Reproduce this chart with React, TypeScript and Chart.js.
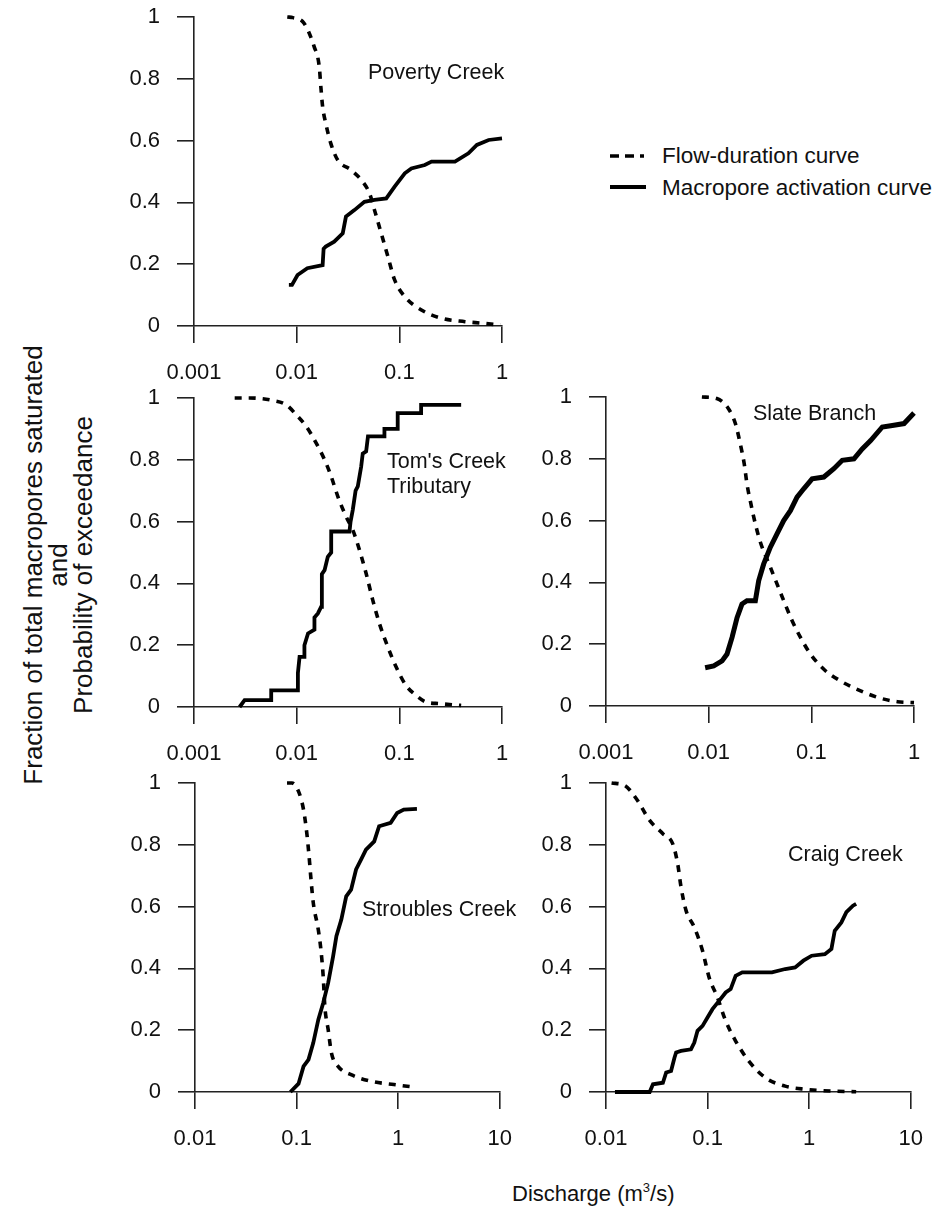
import React, { useEffect, useRef } from "react";
import { Chart, registerables } from "chart.js";

Chart.register(...registerables);

const FONT_FAMILY = '"Liberation Sans", Arial, Helvetica, sans-serif';
const INK = "#111";

// Axis tick values
const lowDecades = [0.001, 0.01, 0.1, 1];
const highDecades = [0.01, 0.1, 1, 10];
const fractionTicks = [0, 0.2, 0.4, 0.6, 0.8, 1];

// Poverty Creek
const povertyFlowQ = [0.0081, 0.0092, 0.0118, 0.0148, 0.0166, 0.0172, 0.0179, 0.0192, 0.0215, 0.0251, 0.0338, 0.044, 0.0513, 0.0573, 0.0666, 0.0775, 0.09, 0.113, 0.164, 0.258, 0.436, 0.637, 0.964];
const povertyFlowP = [1.0, 0.998, 0.98, 0.904, 0.839, 0.774, 0.71, 0.656, 0.591, 0.537, 0.505, 0.467, 0.429, 0.375, 0.3, 0.224, 0.149, 0.095, 0.052, 0.025, 0.014, 0.009, 0.003];
const povertyMacroQ = [0.0084, 0.009, 0.0102, 0.0127, 0.0179, 0.0183, 0.0192, 0.0232, 0.0281, 0.0302, 0.0365, 0.0457, 0.0573, 0.0746, 0.09, 0.113, 0.131, 0.177, 0.206, 0.348, 0.471, 0.569, 0.741, 1.0];
const povertyMacroF = [0.133, 0.133, 0.165, 0.187, 0.197, 0.25, 0.257, 0.273, 0.3, 0.354, 0.375, 0.402, 0.408, 0.413, 0.451, 0.494, 0.51, 0.521, 0.532, 0.532, 0.559, 0.586, 0.602, 0.607];

// Tom's Creek Tributary
const tomsFlowQ = [0.00249, 0.00348, 0.00586, 0.0079, 0.00989, 0.0124, 0.0155, 0.0187, 0.0217, 0.0252, 0.0303, 0.0352, 0.0409, 0.0475, 0.0551, 0.064, 0.0771, 0.0929, 0.116, 0.145, 0.182, 0.245, 0.4];
const tomsFlowP = [1.0, 1.0, 0.992, 0.978, 0.946, 0.908, 0.854, 0.8, 0.746, 0.681, 0.616, 0.573, 0.508, 0.432, 0.346, 0.27, 0.195, 0.13, 0.07, 0.038, 0.016, 0.011, 0.005];
const tomsMacroQ = [0.00278, 0.00311, 0.00565, 0.00565, 0.01028, 0.01028, 0.01067, 0.0119, 0.0119, 0.0129, 0.0149, 0.0149, 0.0161, 0.0173, 0.0176, 0.0187, 0.0201, 0.0217, 0.0217, 0.0327, 0.0335, 0.0352, 0.0375, 0.0394, 0.0425, 0.044, 0.0475, 0.0495, 0.0551, 0.0716, 0.0716, 0.0964, 0.0964, 0.163, 0.163, 0.4];
const tomsMacroF = [0, 0.022, 0.022, 0.054, 0.054, 0.11, 0.162, 0.162, 0.2, 0.238, 0.25, 0.29, 0.303, 0.324, 0.43, 0.443, 0.486, 0.5, 0.568, 0.568, 0.6, 0.638, 0.7, 0.714, 0.778, 0.82, 0.827, 0.876, 0.876, 0.876, 0.9, 0.9, 0.951, 0.951, 0.978, 0.978];

// Slate Branch
const slateFlowQ = [0.00859, 0.012, 0.0156, 0.0182, 0.0203, 0.0222, 0.0236, 0.0258, 0.0285, 0.0319, 0.0399, 0.0463, 0.0538, 0.065, 0.0784, 0.0981, 0.1324, 0.1925, 0.302, 0.473, 0.689, 1.0];
const slateFlowP = [1.0, 0.995, 0.962, 0.914, 0.849, 0.784, 0.719, 0.654, 0.589, 0.53, 0.449, 0.395, 0.341, 0.276, 0.222, 0.168, 0.119, 0.081, 0.049, 0.025, 0.014, 0.011];
const slateMacroQ = [0.00924, 0.0112, 0.0135, 0.0151, 0.0169, 0.0189, 0.0211, 0.0236, 0.0285, 0.0307, 0.0343, 0.0399, 0.0463, 0.0538, 0.0625, 0.0726, 0.0843, 0.1018, 0.1324, 0.1657, 0.2, 0.26, 0.313, 0.378, 0.491, 0.615, 0.8, 1.0];
const slateMacroF = [0.124, 0.13, 0.146, 0.168, 0.222, 0.286, 0.33, 0.341, 0.341, 0.405, 0.459, 0.514, 0.557, 0.6, 0.632, 0.676, 0.703, 0.735, 0.741, 0.768, 0.795, 0.8, 0.832, 0.859, 0.903, 0.908, 0.914, 0.948];

// Stroubles Creek
const stroublesFlowQ = [0.0805, 0.0901, 0.1045, 0.117, 0.126, 0.1327, 0.1387, 0.146, 0.1636, 0.1735, 0.1828, 0.1897, 0.2046, 0.2205, 0.256, 0.344, 0.538, 0.907, 1.42];
const stroublesFlowP = [1.0, 1.0, 0.973, 0.914, 0.838, 0.763, 0.687, 0.612, 0.525, 0.461, 0.374, 0.277, 0.202, 0.126, 0.083, 0.056, 0.035, 0.024, 0.016];
const stroublesMacroQ = [0.0869, 0.1045, 0.117, 0.131, 0.146, 0.1636, 0.1828, 0.2046, 0.2288, 0.2465, 0.2757, 0.308, 0.344, 0.385, 0.431, 0.482, 0.581, 0.649, 0.843, 0.977, 1.135, 1.53];
const stroublesMacroF = [0, 0.027, 0.083, 0.105, 0.159, 0.234, 0.288, 0.353, 0.439, 0.504, 0.558, 0.633, 0.655, 0.72, 0.752, 0.784, 0.811, 0.86, 0.871, 0.903, 0.914, 0.916];

// Craig Creek
const craigFlowQ = [0.01135, 0.0153, 0.0199, 0.0269, 0.0363, 0.0454, 0.0508, 0.0548, 0.0614, 0.074, 0.0892, 0.1035, 0.125, 0.1507, 0.1888, 0.2547, 0.3707, 0.581, 0.909, 1.656, 2.9];
const craigFlowP = [1.0, 0.992, 0.949, 0.879, 0.836, 0.803, 0.738, 0.663, 0.587, 0.533, 0.457, 0.371, 0.306, 0.23, 0.165, 0.1, 0.046, 0.019, 0.009, 0.003, 0.001];
const craigMacroQ = [0.01225, 0.0269, 0.029, 0.0363, 0.0391, 0.0437, 0.0472, 0.049, 0.0548, 0.0686, 0.074, 0.0796, 0.0892, 0.0998, 0.1117, 0.1297, 0.1507, 0.1686, 0.1888, 0.2193, 0.43, 0.581, 0.727, 0.877, 1.058, 1.427, 1.656, 1.785, 2.075, 2.323, 2.698, 2.9];
const craigMacroF = [0, 0, 0.025, 0.03, 0.063, 0.068, 0.111, 0.128, 0.133, 0.138, 0.16, 0.198, 0.214, 0.241, 0.268, 0.295, 0.322, 0.333, 0.376, 0.387, 0.387, 0.398, 0.403, 0.425, 0.441, 0.446, 0.463, 0.522, 0.549, 0.582, 0.603, 0.609];

// Frame geometry for each small plot
const AXIS_W = 80;
const AXIS_H = 75;
const PAD_TOP = 34; // must exceed the y scale's own label padding
const PAD_RIGHT = 26;
const PLOT_W = 308;
const PLOT_H = 309;
const TICK_LEN = 17;
const TICK_FONT = 22;

const pairs = (xs: number[], ys: number[]) => xs.map((x, i) => ({ x, y: ys[i] }));

type PanelProps = {
  plotLeft: number;
  plotTop: number;
  flowQ: number[];
  flowP: number[];
  macroQ: number[];
  macroF: number[];
  xTicks: number[];
  macroWidth?: number;
};

function Panel({ plotLeft, plotTop, flowQ, flowP, macroQ, macroF, xTicks, macroWidth = 3.8 }: PanelProps) {
  const ref = useRef<HTMLCanvasElement | null>(null);
  const width = AXIS_W + PLOT_W + PAD_RIGHT;
  const height = PAD_TOP + PLOT_H + AXIS_H;

  useEffect(() => {
    if (!ref.current) return;
    const axisGrid = {
      drawOnChartArea: false,
      drawTicks: true,
      tickLength: TICK_LEN,
      color: "#222",
      lineWidth: 1.6,
    };
    const axisBorder = { display: true, color: "#222", width: 1.6 };
    const tickFont = { family: FONT_FAMILY, size: TICK_FONT };

    const chart = new Chart(ref.current, {
      type: "scatter",
      data: {
        datasets: [
          {
            label: "Flow-duration curve",
            data: pairs(flowQ, flowP),
            showLine: true,
            borderColor: "#000",
            borderWidth: 3.6,
            borderDash: [7, 7],
            pointRadius: 0,
            cubicInterpolationMode: "monotone",
            clip: false,
          } as any,
          {
            label: "Macropore activation curve",
            data: pairs(macroQ, macroF),
            showLine: true,
            borderColor: "#000",
            borderWidth: macroWidth,
            pointRadius: 0,
            tension: 0,
            clip: false,
          } as any,
        ],
      },
      options: {
        animation: false,
        responsive: false,
        events: [],
        layout: {
          autoPadding: false,
          padding: { left: 0, top: PAD_TOP, right: PAD_RIGHT, bottom: 0 },
        } as any,
        plugins: {
          legend: { display: false },
          tooltip: { enabled: false },
        },
        scales: {
          x: {
            type: "logarithmic",
            min: xTicks[0],
            max: xTicks[xTicks.length - 1],
            afterBuildTicks: (scale: any) => {
              scale.ticks = xTicks.map((value) => ({ value }));
            },
            afterFit: (scale: any) => {
              scale.height = AXIS_H;
            },
            grid: axisGrid,
            border: axisBorder,
            ticks: {
              autoSkip: false,
              maxRotation: 0,
              padding: 17,
              color: INK,
              font: tickFont,
              callback: (v: any) => String(v),
            },
          },
          y: {
            type: "linear",
            min: 0,
            max: 1,
            afterBuildTicks: (scale: any) => {
              scale.ticks = fractionTicks.map((value) => ({ value }));
            },
            afterFit: (scale: any) => {
              scale.width = AXIS_W;
            },
            grid: axisGrid,
            border: axisBorder,
            ticks: {
              autoSkip: false,
              padding: 17,
              color: INK,
              font: tickFont,
              callback: (v: any) => String(v),
            },
          },
        },
      } as any,
    });
    return () => chart.destroy();
  }, []);

  return (
    <canvas
      ref={ref}
      width={width}
      height={height}
      style={{
        position: "absolute",
        left: plotLeft - AXIS_W,
        top: plotTop - PAD_TOP,
        width,
        height,
      }}
    />
  );
}

function Label({ left, centerY, lines, size = 21.5 }: { left: number; centerY: number; lines: string[]; size?: number }) {
  const lh = 25;
  return (
    <div
      style={{
        position: "absolute",
        left,
        top: centerY - (lines.length * lh) / 2,
        fontFamily: FONT_FAMILY,
        fontSize: size,
        lineHeight: `${lh}px`,
        color: INK,
        whiteSpace: "nowrap",
      }}
    >
      {lines.map((l) => (
        <div key={l}>{l}</div>
      ))}
    </div>
  );
}

export default function App() {
  return (
    <div
      style={{
        position: "absolute",
        left: 0,
        top: 0,
        width: 938,
        height: 1219,
        background: "#fff",
        overflow: "hidden",
      }}
    >
      <Panel plotLeft={194} plotTop={17} flowQ={povertyFlowQ} flowP={povertyFlowP} macroQ={povertyMacroQ} macroF={povertyMacroF} xTicks={lowDecades} />
      <Panel plotLeft={194} plotTop={398} flowQ={tomsFlowQ} flowP={tomsFlowP} macroQ={tomsMacroQ} macroF={tomsMacroF} xTicks={lowDecades} />
      <Panel plotLeft={606} plotTop={397} flowQ={slateFlowQ} flowP={slateFlowP} macroQ={slateMacroQ} macroF={slateMacroF} xTicks={lowDecades} macroWidth={5} />
      <Panel plotLeft={195} plotTop={783} flowQ={stroublesFlowQ} flowP={stroublesFlowP} macroQ={stroublesMacroQ} macroF={stroublesMacroF} xTicks={highDecades} />
      <Panel plotLeft={606} plotTop={783} flowQ={craigFlowQ} flowP={craigFlowP} macroQ={craigMacroQ} macroF={craigMacroF} xTicks={highDecades} />

      <Label left={368} centerY={72} lines={["Poverty Creek"]} />
      <Label left={387} centerY={474} lines={["Tom's Creek", "Tributary"]} />
      <Label left={753} centerY={413} lines={["Slate Branch"]} />
      <Label left={362} centerY={909} lines={["Stroubles Creek"]} />
      <Label left={788} centerY={854} lines={["Craig Creek"]} />

      {/* legend */}
      <svg style={{ position: "absolute", left: 600, top: 140 }} width={60} height={70}>
        <line x1={10} y1={16} x2={44} y2={16} stroke="#000" strokeWidth={3.6} strokeDasharray="9 6" />
        <line x1={10} y1={47} x2={46} y2={47} stroke="#000" strokeWidth={4} />
      </svg>
      <div
        style={{
          position: "absolute",
          left: 662,
          top: 140,
          fontFamily: FONT_FAMILY,
          fontSize: 22.5,
          lineHeight: "32px",
          color: INK,
          whiteSpace: "nowrap",
        }}
      >
        <div>Flow-duration curve</div>
        <div>Macropore activation curve</div>
      </div>

      {/* y-axis title */}
      <div
        style={{
          position: "absolute",
          left: 58,
          top: 565,
          transform: "translate(-50%, -50%) rotate(-90deg)",
          fontFamily: FONT_FAMILY,
          fontSize: 26,
          lineHeight: "25px",
          color: INK,
          textAlign: "center",
          whiteSpace: "nowrap",
        }}
      >
        <div>Fraction of total macropores saturated</div>
        <div>and</div>
        <div>Probability of exceedance</div>
      </div>

      {/* x-axis title */}
      <div
        style={{
          position: "absolute",
          left: 512,
          top: 1181,
          fontFamily: FONT_FAMILY,
          fontSize: 22,
          lineHeight: "26px",
          color: INK,
          whiteSpace: "nowrap",
        }}
      >
        Discharge (m<span style={{ fontSize: 13, verticalAlign: "9px", lineHeight: 0 }}>3</span>/s)
      </div>
    </div>
  );
}
